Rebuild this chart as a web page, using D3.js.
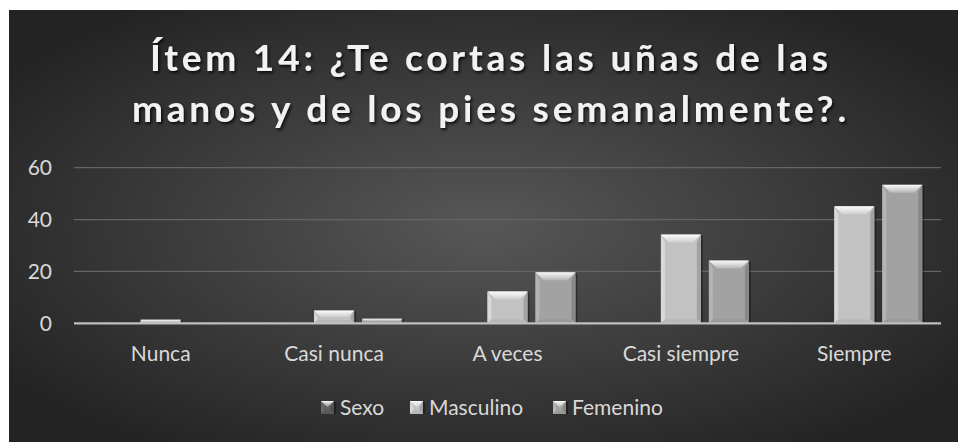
<!DOCTYPE html>
<html>
<head>
<meta charset="utf-8">
<script src="https://cdn.jsdelivr.net/npm/d3@7"></script>
<style>
  body { margin: 0; background: #fff; }
  svg { display: block; font-family: Lato, "Open Sans", sans-serif; }
</style>
</head>
<body>
<div id="chart-area"></div>
<script>
// data
var categories = ["Nunca", "Casi nunca", "A veces", "Casi siempre", "Siempre"];
var series = ["Sexo", "Masculino", "Femenino"];
var sexo = [0, 0, 0, 0, 0];
var masculino = [1.4, 4.9, 12.3, 34.2, 45.1];
var femenino = [0, 1.8, 19.7, 24.2, 53.4];
var yTicks = [0, 20, 40, 60];
var titleLines = ["Ítem 14: ¿Te cortas las uñas de las", "manos y de los pies semanalmente?."];

var values = { "Sexo": sexo, "Masculino": masculino, "Femenino": femenino };
var colors = { "Sexo": "#5e5e5e", "Masculino": "#c2c2c2", "Femenino": "#a2a2a2" };

var W = 958, H = 442;
var margin = {left: 74, right: 17, top: 167.7, bottom: 118.7};
var width = W - margin.left - margin.right,
    height = H - margin.top - margin.bottom;

var svg = d3.select("#chart-area")
  .append("svg")
    .attr("width", W)
    .attr("height", H);

var defs = svg.append("defs");

// background gradient
var bg = defs.append("radialGradient")
    .attr("id", "bg")
    .attr("cx", "50%").attr("cy", "50%").attr("r", "62%");
bg.append("stop").attr("offset", "0%").attr("stop-color", "#575757");
bg.append("stop").attr("offset", "100%").attr("stop-color", "#232323");

// bevel gradient
var topGrad = defs.append("linearGradient")
    .attr("id", "bevelTop").attr("x1", 0).attr("y1", 0).attr("x2", 0).attr("y2", 1);
topGrad.append("stop").attr("offset", "0%").attr("stop-color", "#ffffff").attr("stop-opacity", 0.95);
topGrad.append("stop").attr("offset", "100%").attr("stop-color", "#ffffff").attr("stop-opacity", 0.2);

var shadow = defs.append("filter").attr("id", "tshadow")
    .attr("x", "-10%").attr("y", "-30%").attr("width", "120%").attr("height", "160%");
shadow.append("feDropShadow")
    .attr("dx", 1.5).attr("dy", 2).attr("stdDeviation", 1.5)
    .attr("flood-color", "#000").attr("flood-opacity", 0.8);

svg.append("rect")
    .attr("x", 9).attr("y", 10)
    .attr("width", W - 9).attr("height", H - 10)
    .attr("fill", "url(#bg)");

// title
var title = svg.append("text")
    .attr("text-anchor", "middle")
    .attr("fill", "#f2f2f2")
    .attr("font-size", "37px")
    .attr("font-weight", "bold")
    .attr("letter-spacing", "3.8px")
    .attr("filter", "url(#tshadow)");
title.selectAll("tspan")
  .data(titleLines)
  .enter().append("tspan")
    .attr("x", 491)
    .attr("y", function(d, i) { return 71 + i * 51; })
    .text(function(d) { return d; });

var g = svg.append("g")
    .attr("transform", "translate(" + margin.left + "," + margin.top + ")");

// scales
var x0 = d3.scaleBand()
    .domain(categories)
    .range([0, width])
    .paddingInner(0.216)
    .paddingOuter(0.108);

var x1 = d3.scaleBand()
    .domain(series)
    .range([0, x0.bandwidth()])
    .paddingInner(0.1667);

var y = d3.scaleLinear()
    .domain([0, 60])
    .range([height, 0]);

// gridlines
g.append("g")
  .selectAll("line")
  .data(yTicks.filter(function(d) { return d > 0; }))
  .enter().append("line")
    .attr("x1", 0).attr("x2", width)
    .attr("y1", function(d) { return y(d); })
    .attr("y2", function(d) { return y(d); })
    .attr("stroke", "#656565")
    .attr("stroke-width", 1.3);

// y axis labels
var yAxis = g.append("g")
    .call(d3.axisLeft(y).tickValues(yTicks).tickSize(0).tickPadding(22));
yAxis.select(".domain").remove();
yAxis.selectAll("text")
    .attr("fill", "#d9d9d9")
    .attr("font-size", "21px")
    .attr("font-family", "Lato, sans-serif");

// x axis labels
var xAxis = g.append("g")
    .attr("transform", "translate(0," + height + ")")
    .call(d3.axisBottom(x0).tickSize(0).tickPadding(23));
xAxis.select(".domain").remove();
xAxis.selectAll("text")
    .attr("fill", "#d9d9d9")
    .attr("font-size", "21px")
    .attr("font-family", "Lato, sans-serif");

// beveled bar helper
function bevelBar(sel, x, yy, w, h, color) {
  if (h <= 0) return;
  var d = Math.min(8, h / 2, w / 2);
  var c = d3.color(color);
  sel.append("rect")
      .attr("x", x + 2).attr("y", yy + 1)
      .attr("width", w).attr("height", h - 1)
      .attr("fill", "#000").attr("opacity", 0.35);
  sel.append("rect")
      .attr("x", x).attr("y", yy)
      .attr("width", w).attr("height", h)
      .attr("fill", color);
  // left side
  sel.append("polygon")
      .attr("points", [[x, yy], [x + d * 0.5, yy + d], [x + d * 0.5, yy + h - d * 0.5], [x, yy + h]].join(" "))
      .attr("fill", c.brighter(0.3));
  // right side
  sel.append("polygon")
      .attr("points", [[x + w, yy], [x + w - d * 0.5, yy + d], [x + w - d * 0.5, yy + h - d * 0.5], [x + w, yy + h]].join(" "))
      .attr("fill", c.darker(0.5));
  // bottom
  sel.append("polygon")
      .attr("points", [[x, yy + h], [x + d * 0.5, yy + h - d * 0.5], [x + w - d * 0.5, yy + h - d * 0.5], [x + w, yy + h]].join(" "))
      .attr("fill", c.darker(0.15));
  // top
  sel.append("polygon")
      .attr("points", [[x, yy], [x + w, yy], [x + w - d, yy + d], [x + d, yy + d]].join(" "))
      .attr("fill", "url(#bevelTop)");
}

// bars
var groups = g.append("g")
  .selectAll("g")
  .data(categories)
  .enter().append("g")
    .attr("transform", function(d) { return "translate(" + x0(d) + ",0)"; });

groups.each(function(cat, i) {
  var sel = d3.select(this);
  series.forEach(function(s) {
    var v = values[s][i];
    bevelBar(sel, x1(s), y(v), x1.bandwidth(), height - y(v), colors[s]);
  });
});

// baseline
g.append("line")
    .attr("x1", 0).attr("x2", width)
    .attr("y1", y(0)).attr("y2", y(0))
    .attr("stroke", "#bfbfbf")
    .attr("stroke-width", 2.2);

// legend
var legendX = [321, 410, 553];
var legend = svg.append("g")
  .selectAll("g")
  .data(series)
  .enter().append("g")
    .attr("transform", function(d, i) { return "translate(" + legendX[i] + ",401)"; });

legend.each(function(s) {
  bevelBar(d3.select(this), 0, 0, 13, 13, colors[s]);
});

legend.append("text")
    .attr("x", 19)
    .attr("y", 14)
    .attr("fill", "#d9d9d9")
    .attr("font-size", "21px")
    .text(function(d) { return d; });
</script>
</body>
</html>
